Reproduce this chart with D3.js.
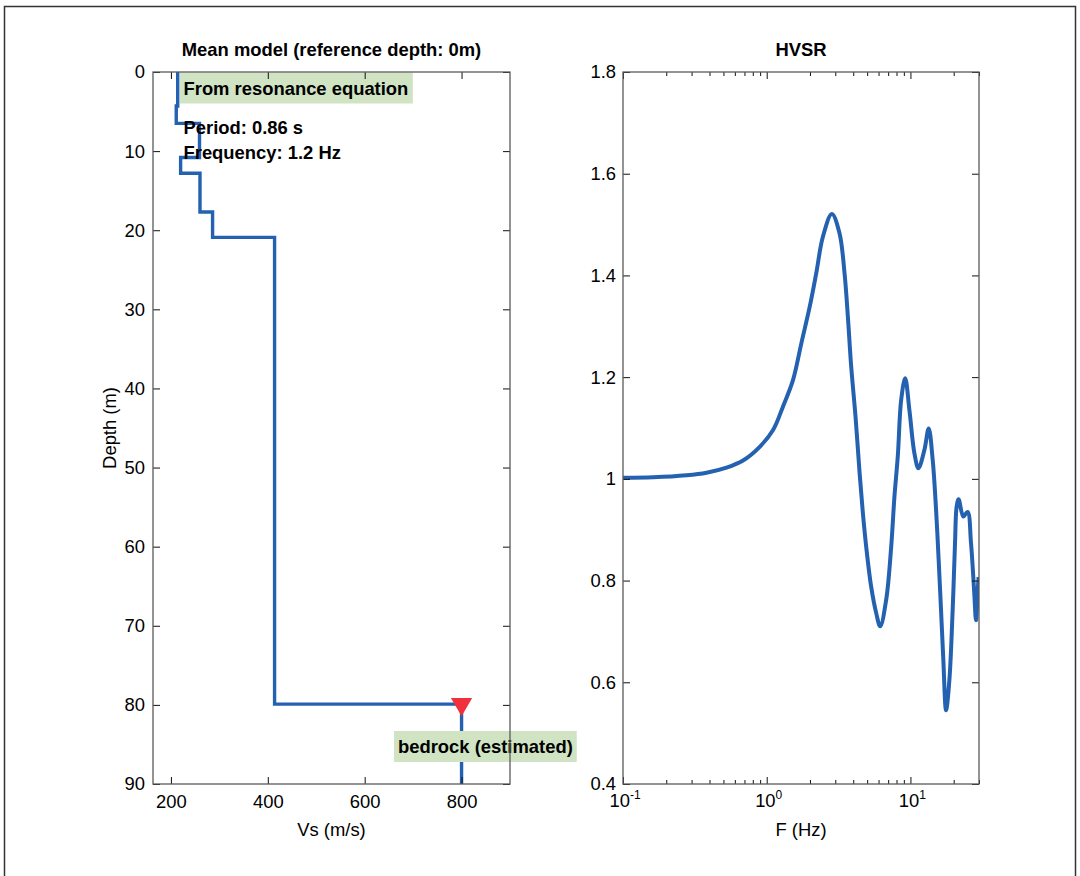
<!DOCTYPE html>
<html>
<head>
<meta charset="utf-8">
<script src="https://cdn.jsdelivr.net/npm/d3@7"></script>
<style>
  html, body { margin: 0; padding: 0; background: #fff; }
  svg { display: block; font-family: "Liberation Sans", Arial, Helvetica, sans-serif; }
</style>
</head>
<body>
<svg id="chart" width="1080" height="876"></svg>
<script>
// ---------------- data ----------------
// Velocity profile (mean model)
const layerTop = [0, 4.3, 6.5, 10.8, 12.8, 17.7, 20.9, 79.9];
const layerVs  = [214, 211, 259, 220, 260, 286, 414, 800];
const maxDepth = 90;
const bedrockDepth = 79.9;
const bedrockVs = 800;
const depthTicks = [0, 10, 20, 30, 40, 50, 60, 70, 80, 90];
const vsTicks = [200, 400, 600, 800];

// HVSR curve
const freq = [0.1, 0.162, 0.277, 0.381, 0.525, 0.684, 0.894, 1.107, 1.297, 1.523, 1.74, 1.99, 2.21, 2.46, 2.84, 3.21, 3.48, 3.67, 3.87, 4.15, 4.43, 4.67, 4.92, 5.33, 5.78, 6.16, 6.78, 7.35, 7.74, 8.17, 8.62, 9.19, 9.84, 10.66, 11.37, 12.51, 13.40, 14.29, 15.08, 15.72, 16.33, 16.94, 17.70, 18.66, 19.67, 20.43, 20.96, 21.64, 23.33, 24.99, 26.39, 27.81, 28.58, 29.31, 29.8];
const hvsr = [1.002, 1.003, 1.007, 1.012, 1.022, 1.036, 1.063, 1.096, 1.142, 1.194, 1.266, 1.338, 1.404, 1.476, 1.521, 1.483, 1.404, 1.319, 1.221, 1.122, 1.011, 0.932, 0.867, 0.788, 0.736, 0.710, 0.762, 0.867, 0.965, 1.045, 1.155, 1.198, 1.135, 1.050, 1.021, 1.057, 1.099, 1.037, 0.939, 0.840, 0.742, 0.644, 0.545, 0.604, 0.742, 0.874, 0.945, 0.960, 0.926, 0.935, 0.874, 0.775, 0.722, 0.775, 0.807];
const hvsrTicks = [0.4, 0.6, 0.8, 1.0, 1.2, 1.4, 1.6, 1.8];
const freqMajor = [0.1, 1, 10];
const freqMajorExp = ["-1", "0", "1"];
const freqMinor = [0.2,0.3,0.4,0.5,0.6,0.7,0.8,0.9,2,3,4,5,6,7,8,9,20,30];

const titleLeft = "Mean model (reference depth: 0m)";
const titleRight = "HVSR";
const annotTop = "From resonance equation";
const annotLines = ["Period: 0.86 s", "Frequency: 1.2 Hz"];
const annotBedrock = "bedrock (estimated)";

// ---------------- layout ----------------
const svg = d3.select("#chart");
const FS = 18.4;
const blue = "#2461b1";
const axisCol = "#5a5a5a";
const tickCol = "#111";

svg.append("rect").attr("x", 0).attr("y", 0).attr("width", 1080).attr("height", 876).attr("fill", "#fff");
svg.append("rect").attr("x", 4.5).attr("y", 6.5).attr("width", 1071).attr("height", 880)
   .attr("fill", "none").attr("stroke", "#333").attr("stroke-width", 1.5);

const L = {x0: 153, x1: 510, y0: 72, y1: 784};
const R = {x0: 623, x1: 979, y0: 72, y1: 784};

function styleAxis(g) {
  g.select(".domain").remove();
  g.selectAll(".tick line").attr("stroke", tickCol).attr("stroke-width", 1);
  g.selectAll(".tick text").attr("fill", "#000").style("font-size", FS + "px")
   .style("font-family", '"Liberation Sans", Arial, sans-serif');
}

// ---------------- left panel ----------------
const xVs = d3.scaleLinear().domain([163, 900]).range([L.x0, L.x1]);
const yD  = d3.scaleLinear().domain([0, maxDepth]).range([L.y0, L.y1]);

const steps = [];
layerTop.forEach((t, i) => {
  const b = i < layerTop.length - 1 ? layerTop[i + 1] : maxDepth;
  steps.push([layerVs[i], t]);
  steps.push([layerVs[i], b]);
});
const lineProf = d3.line().x(d => xVs(d[0])).y(d => yD(d[1]));
svg.append("path").attr("d", lineProf(steps)).attr("fill", "none")
   .attr("stroke", blue).attr("stroke-width", 3.4).attr("stroke-linejoin", "miter");

// green annotation at top
const annG = svg.append("g");
const annBg = annG.append("rect").attr("fill", "#d0e4c3");
const annT = annG.append("text").attr("x", 183.5).attr("y", 95)
  .style("font-size", FS + "px").style("font-weight", "bold").text(annotTop);
const bb = annT.node().getBBox();
annBg.attr("x", 180).attr("y", L.y0 + 0.5).attr("width", bb.width + 8).attr("height", 31);

annotLines.forEach((s, i) => {
  svg.append("text").attr("x", 183.5).attr("y", 134 + i * 25)
    .style("font-size", FS + "px").style("font-weight", "bold").text(s);
});

// bedrock label
const bG = svg.append("g");
const bBg = bG.append("rect").attr("fill", "#d0e4c3");
const bT = bG.append("text").attr("x", 398).attr("y", 753)
  .style("font-size", FS + "px").style("font-weight", "bold").text(annotBedrock);
const bbb = bT.node().getBBox();
bBg.attr("x", 394).attr("y", 731).attr("width", bbb.width + 8).attr("height", 31);

// triangle marker
svg.append("path")
  .attr("d", d3.symbol().type(d3.symbolTriangle).size(195)())
  .attr("transform", `translate(${xVs(bedrockVs)},${yD(bedrockDepth)}) rotate(180)`)
  .attr("fill", "#f0303a");

// axes left
svg.append("g").attr("transform", `translate(${L.x0},0)`)
  .call(d3.axisLeft(yD).tickValues(depthTicks).tickSize(-7).tickPadding(8).tickFormat(d3.format("d")))
  .call(styleAxis);
svg.append("g").attr("transform", `translate(${L.x1},0)`)
  .call(d3.axisRight(yD).tickValues(depthTicks).tickSize(-7).tickFormat(""))
  .call(styleAxis);
svg.append("g").attr("transform", `translate(0,${L.y1})`)
  .call(d3.axisBottom(xVs).tickValues(vsTicks).tickSize(-7).tickPadding(11).tickFormat(d3.format("d")))
  .call(styleAxis);
svg.append("g").attr("transform", `translate(0,${L.y0})`)
  .call(d3.axisTop(xVs).tickValues(vsTicks).tickSize(-7).tickFormat(""))
  .call(styleAxis);
svg.append("rect").attr("x", L.x0).attr("y", L.y0).attr("width", L.x1 - L.x0).attr("height", L.y1 - L.y0)
  .attr("fill", "none").attr("stroke", axisCol).attr("stroke-width", 1.3);

svg.append("text").attr("x", (L.x0 + L.x1) / 2).attr("y", 56).attr("text-anchor", "middle")
  .style("font-size", FS + "px").style("font-weight", "bold").text(titleLeft);
svg.append("text").attr("x", (L.x0 + L.x1) / 2).attr("y", 836).attr("text-anchor", "middle")
  .style("font-size", FS + "px").text("Vs (m/s)");
svg.append("text").attr("transform", `translate(116,428) rotate(-90)`).attr("text-anchor", "middle")
  .style("font-size", FS + "px").text("Depth (m)");

// ---------------- right panel ----------------
const xF = d3.scaleLog().domain([0.1, 30]).range([R.x0, R.x1]);
const yH = d3.scaleLinear().domain([0.4, 1.8]).range([R.y1, R.y0]);

svg.append("clipPath").attr("id", "clipR").append("rect")
  .attr("x", R.x0).attr("y", R.y0).attr("width", R.x1 - R.x0).attr("height", R.y1 - R.y0);
const lineH = d3.line().x((d, i) => xF(freq[i])).y(d => yH(d)).curve(d3.curveCatmullRom.alpha(0.5));
svg.append("path").attr("d", lineH(hvsr)).attr("fill", "none").attr("clip-path", "url(#clipR)")
  .attr("stroke", blue).attr("stroke-width", 4).attr("stroke-linejoin", "round");

svg.append("g").attr("transform", `translate(${R.x0},0)`)
  .call(d3.axisLeft(yH).tickValues(hvsrTicks).tickSize(-7).tickPadding(7)
    .tickFormat(d => d === 1 ? "1" : d3.format(".1f")(d)))
  .call(styleAxis);
svg.append("g").attr("transform", `translate(${R.x1},0)`)
  .call(d3.axisRight(yH).tickValues(hvsrTicks).tickSize(-7).tickFormat(""))
  .call(styleAxis);
[[R.y1, d3.axisBottom], [R.y0, d3.axisTop]].forEach(([yy, ax]) => {
  svg.append("g").attr("transform", `translate(0,${yy})`)
    .call(ax(xF).tickValues(freqMajor).tickSize(-7).tickFormat("")).call(styleAxis);
  svg.append("g").attr("transform", `translate(0,${yy})`)
    .call(ax(xF).tickValues(freqMinor).tickSize(-4).tickFormat("")).call(styleAxis);
});
svg.append("rect").attr("x", R.x0).attr("y", R.y0).attr("width", R.x1 - R.x0).attr("height", R.y1 - R.y0)
  .attr("fill", "none").attr("stroke", axisCol).attr("stroke-width", 1.3);

freqMajor.forEach((f, i) => {
  const t = svg.append("text").attr("x", xF(f) + 2).attr("y", 807).attr("text-anchor", "middle")
    .style("font-size", FS + "px");
  t.append("tspan").text("10");
  t.append("tspan").attr("dy", -8).style("font-size", "12px").text(freqMajorExp[i]);
});

svg.append("text").attr("x", (R.x0 + R.x1) / 2).attr("y", 56).attr("text-anchor", "middle")
  .style("font-size", FS + "px").style("font-weight", "bold").text(titleRight);
svg.append("text").attr("x", (R.x0 + R.x1) / 2).attr("y", 836).attr("text-anchor", "middle")
  .style("font-size", FS + "px").text("F (Hz)");
</script>
</body>
</html>
